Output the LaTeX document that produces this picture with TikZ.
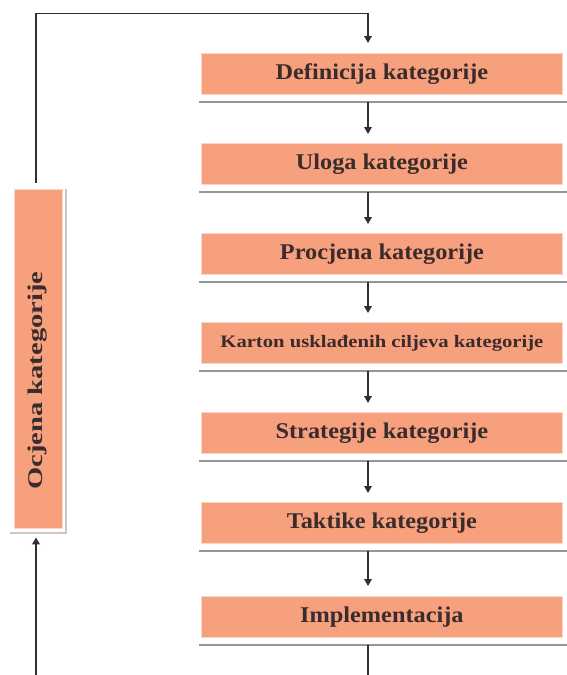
\documentclass[tikz,border=0pt]{standalone}
\usepackage{fontspec}
\setmainfont{Liberation Serif}
\usetikzlibrary{arrows.meta,calc}
\definecolor{boxfill}{RGB}{247,160,126}
\definecolor{boxrim}{RGB}{250,214,196}
\definecolor{txt}{RGB}{58,44,44}
\definecolor{ln}{RGB}{48,48,48}
\definecolor{shad}{RGB}{150,150,150}
\definecolor{shadlight}{RGB}{200,200,200}
\begin{document}
\begin{tikzpicture}[x=1pt,y=-1pt,
  stepbox/.style={fill=boxfill, draw=boxrim, line width=0.8pt,
    minimum width=361pt, minimum height=41pt, inner sep=0pt,
    anchor=north west, text=txt,
    font=\bfseries\fontsize{22.5}{26}\selectfont},
  conn/.style={draw=ln, line width=1.8pt, -{Triangle[length=7pt,width=7.5pt]}},
  shadowline/.style={draw=shad, line width=1.6pt}]
\clip (0,0) rectangle (567,675);
\useasboundingbox (0,0) rectangle (567,675);
\fill[white] (0,0) rectangle (567,675);
\coordinate (ax) at (368,0);
\coordinate (lx) at (36,0);
% main column
\node[stepbox] (b1) at (201,53)  {\scalebox{1.08}[1]{Definicija kategorije}};
\node[stepbox] (b2) at (201,143) {\scalebox{1.08}[1]{Uloga kategorije}};
\node[stepbox] (b3) at (201,233) {\scalebox{1.08}[1]{Procjena kategorije}};
\node[stepbox, font=\bfseries\fontsize{17.5}{20}\selectfont] (b4) at (201,322) {\scalebox{1.18}[1]{Karton usklađenih ciljeva kategorije}};
\node[stepbox] (b5) at (201,412) {\scalebox{1.08}[1]{Strategije kategorije}};
\node[stepbox] (b6) at (201,502) {\scalebox{1.08}[1]{Taktike kategorije}};
\node[stepbox] (b7) at (201,596) {\scalebox{1.08}[1]{Implementacija}};
\foreach \b in {b1,b2,b3,b4,b5,b6,b7}{
  \draw[shadowline] ($(\b.south west)+(-2,7)$) -- ++(372,0);
}
% left box
\node[fill=boxfill, draw=boxrim, line width=0.8pt, rotate=90,
  minimum width=339pt, minimum height=48pt, inner sep=0pt, text=txt,
  font=\bfseries\fontsize{21}{24}\selectfont] (ocj) at (38,358.5)
  {\scalebox{1.36}[1]{Ocjena kategorije}\hspace*{44pt}};
\draw[draw=shadlight, line width=1.2pt] (66,189) -- (66,533) -- (10,533);
% connectors
\draw[conn] ($(b1.south -| ax)+(0,7)$) -- ($(b2.north -| ax)+(0,-9)$);
\draw[conn] ($(b2.south -| ax)+(0,7)$) -- ($(b3.north -| ax)+(0,-9)$);
\draw[conn] ($(b3.south -| ax)+(0,7)$) -- ($(b4.north -| ax)+(0,-9)$);
\draw[conn] ($(b4.south -| ax)+(0,7)$) -- ($(b5.north -| ax)+(0,-9)$);
\draw[conn] ($(b5.south -| ax)+(0,7)$) -- ($(b6.north -| ax)+(0,-9)$);
\draw[conn] ($(b6.south -| ax)+(0,7)$) -- ($(b7.north -| ax)+(0,-10)$);
\coordinate (tl) at (36,13.5);
\coordinate (bl) at (36,700);
\draw[conn] ($(ocj.east -| lx)+(0,-6)$) -- (tl) -| ($(b1.north -| ax)+(0,-10)$);
\draw[conn] ($(b7.south -| ax)+(0,7)$) |- (bl) -- ($(ocj.west -| lx)+(0,9)$);
\end{tikzpicture}
\end{document}
